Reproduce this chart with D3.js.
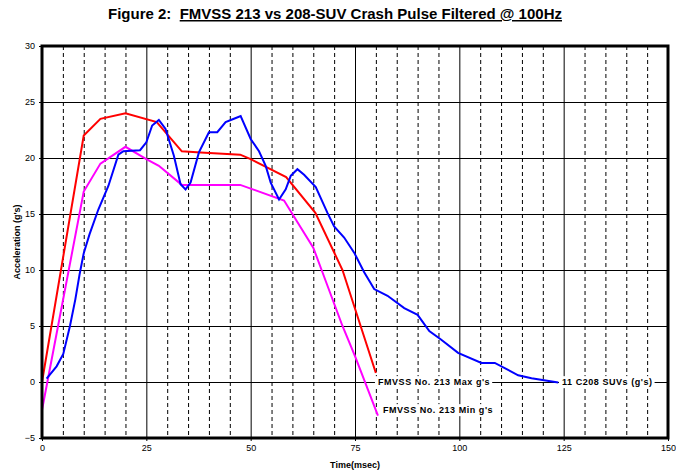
<!DOCTYPE html>
<html><head><meta charset="utf-8">
<script src="https://cdn.jsdelivr.net/npm/d3@7"></script>
<style>body{margin:0;background:#fff}svg{display:block}</style>
</head><body>
<script>
const titlePrefix = "Figure 2:  ";
const titleMain = "FMVSS 213 vs 208-SUV Crash Pulse Filtered @ 100Hz";
const xTitle = "Time(msec)";
const yTitle = "Acceleration (g's)";
const xTicks = [0, 25, 50, 75, 100, 125, 150];
const yTicks = [-5, 0, 5, 10, 15, 20, 25, 30];

const maxT = [0, 10, 14, 20, 27.5, 33.5, 38, 47.5, 50, 58.5, 65.5, 72, 80];
const maxG = [0, 22, 23.5, 24, 23.2, 20.6, 20.5, 20.3, 19.9, 18.3, 15.1, 10, 0.8];
const minT = [0, 10, 14, 20, 25, 28, 33.5, 47.5, 58, 65, 67, 72, 75, 80.5];
const minG = [-2.5, 17, 19.5, 21, 19.9, 19.3, 17.6, 17.6, 16.2, 12, 10, 5, 2.3, -3];
const suvT = [1.1, 3.5, 5.1, 6.7, 8, 9, 10, 11.4, 13.5, 15.9, 18.3, 19.5, 23.5, 25, 26.4, 28, 29.6, 31.6, 33.2, 34.4, 35.6, 37.6, 40, 42, 44, 46, 47.6, 50, 52, 53.6, 54.8, 56.8, 58.4, 59.6, 61.2, 62.8, 65.6, 68.4, 70, 72.4, 74.8, 77.2, 79.6, 82.8, 86.8, 90, 92.8, 95.6, 99.7, 105.3, 108.5, 114.1, 117.3, 123.7];
const suvG = [0.3, 1.4, 2.5, 5, 7.4, 9.6, 11.5, 13.2, 15.4, 17.5, 20.3, 20.6, 20.7, 21.4, 22.9, 23.4, 22.6, 20.2, 17.65, 17.2, 17.8, 20.5, 22.3, 22.3, 23.2, 23.5, 23.75, 21.7, 20.6, 19.3, 17.8, 16.3, 17.2, 18.4, 19, 18.5, 17.4, 15.1, 13.9, 12.9, 11.55, 9.8, 8.3, 7.7, 6.6, 6.0, 4.55, 3.8, 2.6, 1.7, 1.7, 0.6, 0.33, -0.05];
const labels = ["FMVSS No. 213 Max g's", "FMVSS No. 213 Min g's", "11 C208 SUVs (g's)"];

const W = 676, H = 476;
const L = 42, R = 668, T = 46, B = 438;
const svg = d3.select("body").append("svg").attr("width", W).attr("height", H);
const x = d3.scaleLinear().domain([0, 150]).range([L, R]);
const y = d3.scaleLinear().domain([-5, 30]).range([B, T]);
const font = "Arial, 'Liberation Sans', sans-serif";

// grid
const g = svg.append("g");
const vGrid = d3.range(5, 150, 5);
g.selectAll("line.v").data(vGrid).enter().append("line")
  .attr("x1", d => x(d) + 0.5).attr("x2", d => x(d) + 0.5)
  .attr("y1", T).attr("y2", B)
  .attr("stroke", "#000").attr("stroke-width", 1)
  .attr("stroke-dasharray", d => d % 25 === 0 ? null : "4,3");
g.selectAll("line.h").data(yTicks.filter(d => d > -5 && d < 30)).enter().append("line")
  .attr("x1", L).attr("x2", R)
  .attr("y1", d => Math.round(y(d)) + 0.5).attr("y2", d => Math.round(y(d)) + 0.5)
  .attr("stroke", "#000").attr("stroke-width", 1);

// axes
const xAxis = d3.axisBottom(x).tickValues(xTicks).tickSize(3).tickPadding(4);
const yAxis = d3.axisLeft(y).tickValues(yTicks).tickSize(3).tickPadding(4);
const ax = svg.append("g").attr("transform", `translate(0,${B})`).call(xAxis);
const ay = svg.append("g").attr("transform", `translate(${L},0)`).call(yAxis);
[ax, ay].forEach(a => {
  a.select(".domain").remove();
  a.selectAll("text").attr("font-family", font).attr("font-size", 9).attr("fill", "#000");
});

// lines
const line = d3.line().x(d => x(d[0])).y(d => y(d[1]));
const series = [
  {t: maxT, v: maxG, c: "#ff0000"},
  {t: minT, v: minG, c: "#ff00ff"},
  {t: suvT, v: suvG, c: "#0000ff"}
];
series.forEach(s => {
  svg.append("path").datum(s.t.map((t, i) => [t, s.v[i]]))
    .attr("d", line).attr("fill", "none").attr("stroke", s.c).attr("stroke-width", 2);
});

// frame
svg.append("rect").attr("x", L).attr("y", T).attr("width", R - L).attr("height", B - T)
  .attr("fill", "none").attr("stroke", "#000").attr("stroke-width", 3);

// series labels
const labPos = [
  {t: 80.5, v: 0},
  {t: 81.7, v: -2.5},
  {t: 124.6, v: 0}
];
labels.forEach((txt, i) => {
  const p = labPos[i];
  const te = svg.append("text").text(txt)
    .attr("x", x(p.t)).attr("y", y(p.v)).attr("dy", "0.35em")
    .attr("font-family", font).attr("font-weight", "bold").attr("font-size", 9)
    .attr("letter-spacing", "0.55px")
    .attr("fill", "#000");
  const bb = te.node().getBBox();
  svg.insert("rect", () => te.node()).attr("x", bb.x - 3).attr("y", bb.y - 1)
    .attr("width", bb.width + 5).attr("height", bb.height + 2).attr("fill", "#fff");
});

// titles
const tt = svg.append("text").attr("x", 335).attr("y", 19).attr("text-anchor", "middle")
  .attr("font-family", font).attr("font-weight", "bold").attr("font-size", 15).attr("fill", "#000");
tt.append("tspan").text(titlePrefix).style("white-space", "pre");
tt.append("tspan").text(titleMain).attr("text-decoration", "underline");

svg.append("text").text(xTitle).attr("x", (L + R) / 2).attr("y", 468).attr("text-anchor", "middle")
  .attr("font-family", font).attr("font-weight", "bold").attr("font-size", 9).attr("fill", "#000");
svg.append("text").text(yTitle)
  .attr("transform", `translate(20,${(T + B) / 2}) rotate(-90)`).attr("text-anchor", "middle")
  .attr("font-family", font).attr("font-weight", "bold").attr("font-size", 9).attr("fill", "#000");
</script>
</body></html>
